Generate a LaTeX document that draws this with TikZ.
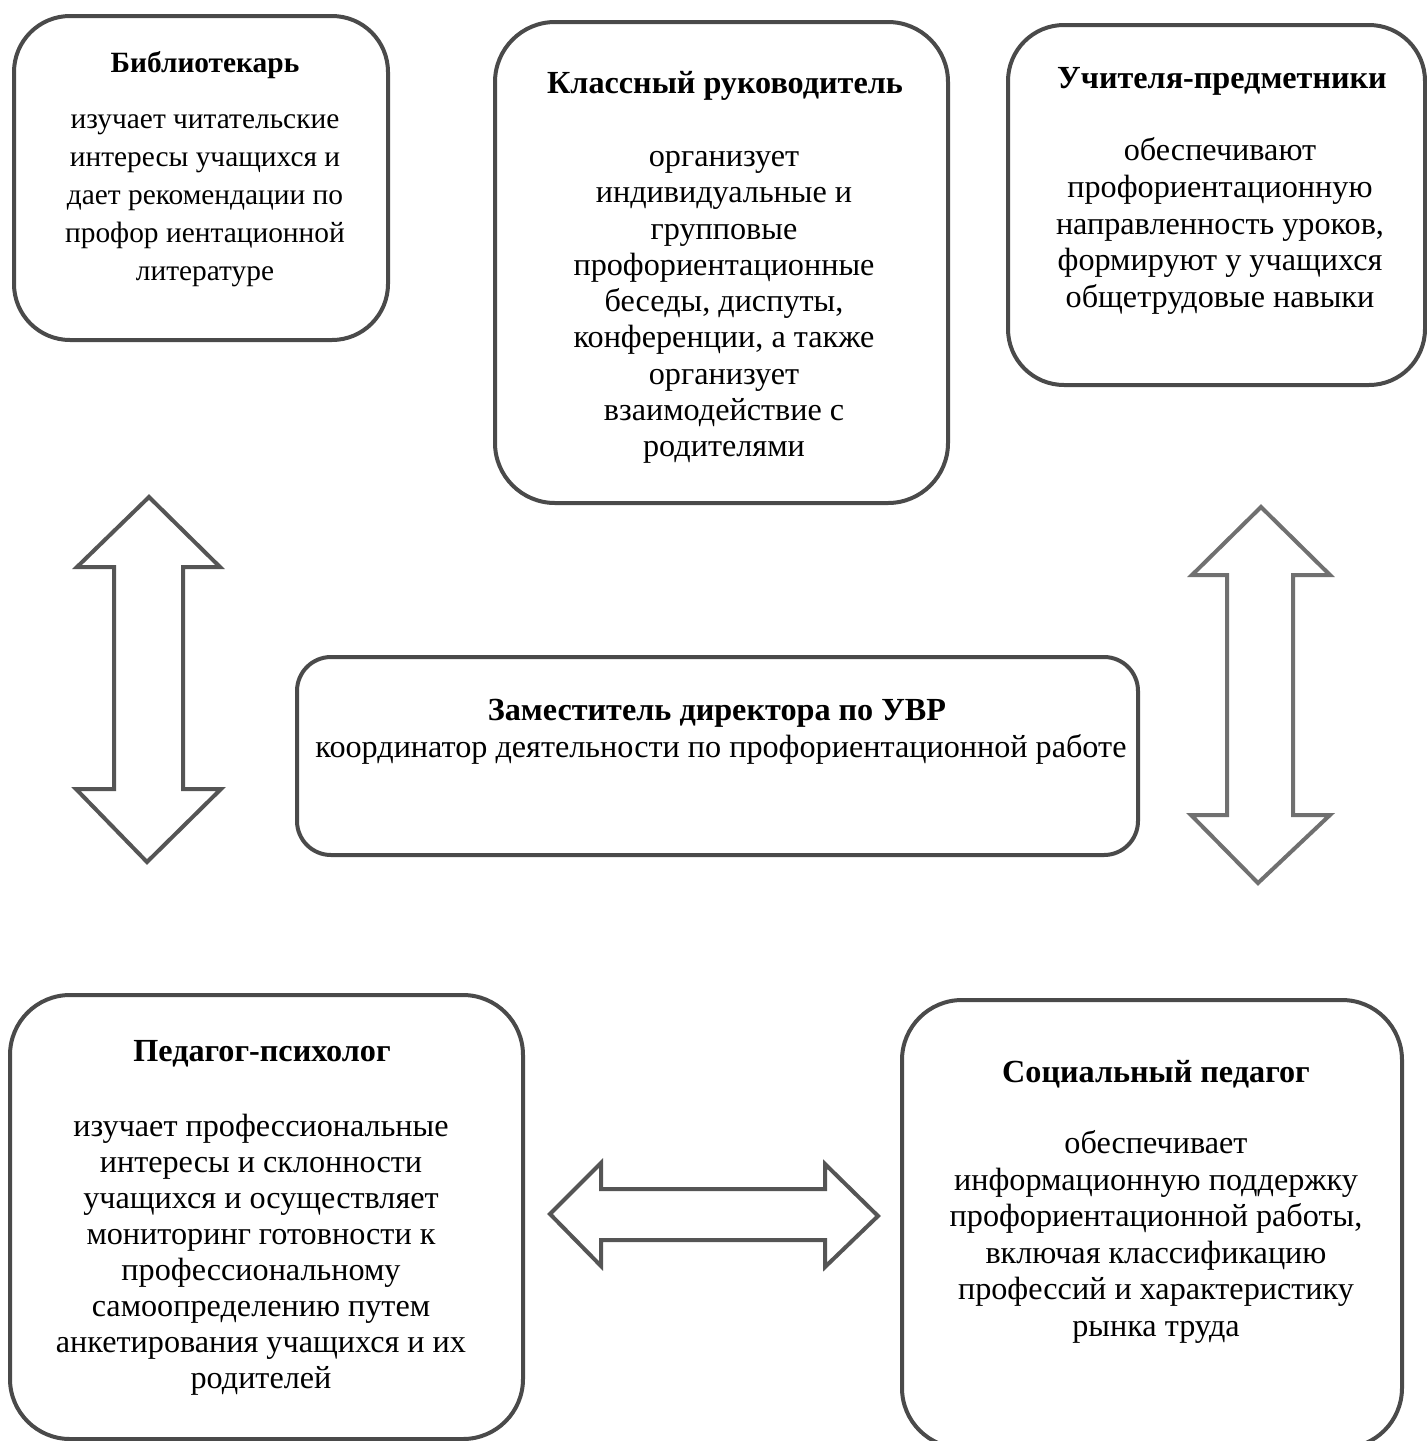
\documentclass[tikz,border=0pt]{standalone}
\usepackage{fontspec}
\setmainfont{Liberation Serif}
\definecolor{bord}{HTML}{4A4A4A}
\definecolor{arr}{HTML}{555555}
\definecolor{arrl}{HTML}{707070}
\newcommand\firstl{\rule{0pt}{12pt}}
\begin{document}
\begin{tikzpicture}[x=0.5pt,y=-0.5pt,
  box/.style={draw=bord, line width=2pt, rectangle, inner sep=0pt},
  txt/.style={inner sep=0pt, anchor=north, align=center},
  bodyf/.style={font=\fontsize{16.1}{#1}\selectfont},
  ttl/.style={inner sep=0pt, anchor=north, align=center, font=\fontsize{16.1}{18}\selectfont\bfseries},
  blockarrow/.style={draw=#1, line width=2pt, line join=miter, fill=white}]
\useasboundingbox (0,0) rectangle (1427,1441);

% boxes
\node[box, rounded corners=28pt, minimum width=187pt, minimum height=162pt] (bib) at (201,178) {};
\node[box, rounded corners=30pt, minimum width=226.5pt, minimum height=240.5pt] (klass) at (721.5,262.5) {};
\node[box, rounded corners=28pt, minimum width=208.5pt, minimum height=180pt] (uchit) at (1216.5,205) {};
\node[box, rounded corners=17pt, minimum width=420.5pt, minimum height=99pt] (zam) at (717.5,756) {};
\node[box, rounded corners=30pt, minimum width=256.5pt, minimum height=222pt] (ped) at (266.5,1217) {};
\node[box, rounded corners=30pt, minimum width=250pt, minimum height=224pt] (soc) at (1152,1224) {};

% titles
\node[ttl, font=\fontsize{14.7}{18}\selectfont\bfseries] (bibT) at (205,48) {\firstl Библиотекарь};
\node[ttl] (klassT) at (725,69) {\firstl Классный руководитель};
\node[ttl] (uchitT) at (1222,64) {\firstl Учителя-предметники};
\node[ttl] (zamT) at (717,696) {\firstl Заместитель директора по УВР};
\node[ttl] (pedT) at (262,1037) {\firstl Педагог-психолог};
\node[ttl] (socT) at (1156,1058) {\firstl Социальный педагог};

% bodies
\node[txt, font=\fontsize{14.7}{19pt}\selectfont] (bibB) at (205,104) {\firstl изучает читательские\\интересы учащихся и\\дает рекомендации по\\профор иентационной\\литературе};
\node[txt, bodyf=18.15pt] (klassB) at (724,142) {\firstl организует\\индивидуальные и\\групповые\\профориентационные\\беседы, диспуты,\\конференции, а также\\организует\\взаимодействие с\\родителями};
\node[txt, bodyf=18.4pt] (uchitB) at (1220,136) {\firstl обеспечивают\\профориентационную\\направленность уроков,\\формируют у учащихся\\общетрудовые навыки};
\node[txt, bodyf=18pt] (zamB) at (721,733) {\firstl координатор деятельности по профориентационной работе};
\node[txt, bodyf=18pt] (pedB) at (261,1112) {\firstl изучает профессиональные\\интересы и склонности\\учащихся и осуществляет\\мониторинг готовности к\\профессиональному\\самоопределению путем\\анкетирования учащихся и их\\родителей};
\node[txt, bodyf=18.3pt] (socB) at (1156,1129) {\firstl обеспечивает\\информационную поддержку\\профориентационной работы,\\включая классификацию\\профессий и характеристику\\рынка труда};

% block arrows
\draw[blockarrow=arr] (149,497) -- (220,567) -- (183,567) -- (183,789) -- (221,789) -- (147,862) -- (76,789) -- (114,789) -- (114,567) -- (77,567) -- cycle;
\draw[blockarrow=arrl] (1261,507) -- (1330,575) -- (1293,575) -- (1293,815) -- (1330,815) -- (1258,883) -- (1191,815) -- (1227,815) -- (1227,575) -- (1192,575) -- cycle;
\draw[blockarrow=arr] (550,1214) -- (601,1163) -- (601,1189) -- (825,1189) -- (825,1164) -- (878,1216) -- (825,1267) -- (825,1240) -- (601,1240) -- (601,1266) -- cycle;
\end{tikzpicture}
\end{document}
